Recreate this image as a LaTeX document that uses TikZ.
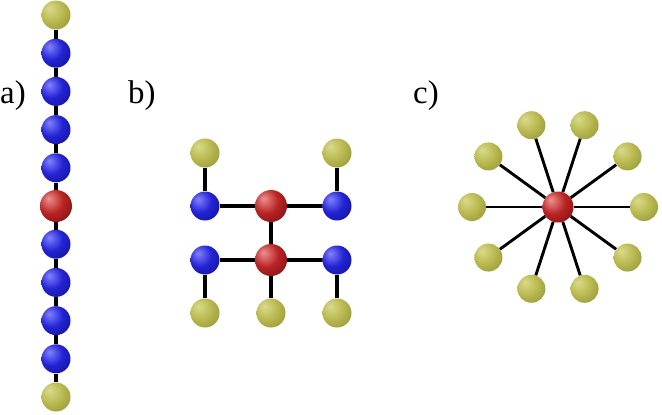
\documentclass[tikz,border=0pt]{standalone}
\usepackage{fontspec}
\setmainfont{Liberation Serif}
\usetikzlibrary{calc}
\definecolor{bhi}{RGB}{130,130,255}
\definecolor{bmid}{RGB}{35,35,212}
\definecolor{bdark}{RGB}{15,15,135}
\definecolor{rhi}{RGB}{238,145,145}
\definecolor{rmid}{RGB}{185,35,35}
\definecolor{rdark}{RGB}{110,15,15}
\definecolor{yhi}{RGB}{218,218,140}
\definecolor{ymid}{RGB}{185,185,80}
\definecolor{ydark}{RGB}{140,140,50}
\pgfdeclareradialshading{blueball}{\pgfpoint{-12bp}{12bp}}{color(0bp)=(bhi); color(20bp)=(bmid); color(44bp)=(bdark); color(70bp)=(bdark)}
\pgfdeclareradialshading{redball}{\pgfpoint{-12bp}{12bp}}{color(0bp)=(rhi); color(20bp)=(rmid); color(44bp)=(rdark); color(70bp)=(rdark)}
\pgfdeclareradialshading{yelball}{\pgfpoint{-12bp}{12bp}}{color(0bp)=(yhi); color(20bp)=(ymid); color(44bp)=(ydark); color(70bp)=(ydark)}
\begin{document}
\begin{tikzpicture}[x=1bp,y=-1bp,
  bead/.style={circle,inner sep=0pt,shade},
  bblue/.style={bead,minimum size=29bp,shading=blueball},
  bred/.style={bead,minimum size=32bp,shading=redball},
  byel/.style={bead,minimum size=29bp,shading=yelball},
  bond/.style={line width=3.2bp,black},
  lab/.style={inner sep=0pt,anchor=base west,font=\fontsize{33}{36}\selectfont}]
\useasboundingbox (0,0) rectangle (662,414);
% labels
\node[lab] (la) at (0,103) {a)};
\node[lab] (lb) at (128,103) {b)};
\node[lab] (lc) at (413,103) {c)};
% a) chain
\foreach \i in {0,...,10} {
  \pgfmathsetmacro{\yy}{15+38.2*\i}
  \ifnum\i=0 \node[byel] (a\i) at (56,\yy) {};
  \else\ifnum\i=10 \node[byel] (a\i) at (56,\yy) {};
  \else\ifnum\i=5 \node[bred] (a\i) at (56,\yy) {};
  \else \node[bblue] (a\i) at (56,\yy) {};
  \fi\fi\fi
}
\foreach \i [evaluate=\i as \j using int(\i+1)] in {0,...,9}
  \draw[bond] (a\i) -- (a\j);
% b)
\node[byel] (bty1) at (205,153) {};
\node[byel] (bty2) at (337,153) {};
\node[bblue] (bb1) at (205,206) {};
\node[bred] (br1) at (271,206) {};
\node[bblue] (bb2) at (337,206) {};
\node[bblue] (bb3) at (205,260) {};
\node[bred] (br2) at (271,260) {};
\node[bblue] (bb4) at (337,260) {};
\node[byel] (bby1) at (205,313) {};
\node[byel] (bby2) at (271,313) {};
\node[byel] (bby3) at (337,313) {};
\draw[bond] (bty1) -- (bb1);
\draw[bond] (bty2) -- (bb2);
\draw[bond] (bb1) -- (br1);
\draw[bond] (br1) -- (bb2);
\draw[bond] (br1) -- (br2);
\draw[bond] (bb3) -- (br2);
\draw[bond] (br2) -- (bb4);
\draw[bond] (bb3) -- (bby1);
\draw[bond] (br2) -- (bby2);
\draw[bond] (bb4) -- (bby3);
% c)
\node[bred,minimum size=31bp] (cc) at (558,207) {};
\foreach \k in {0,...,9} {
  \node[byel,minimum size=28bp] (cy\k) at ($(558,207)+({86*cos(36*\k)},{86*sin(36*\k)})$) {};
  \draw[line width=2.9bp] (cc) -- (cy\k);
}
\end{tikzpicture}
\end{document}
